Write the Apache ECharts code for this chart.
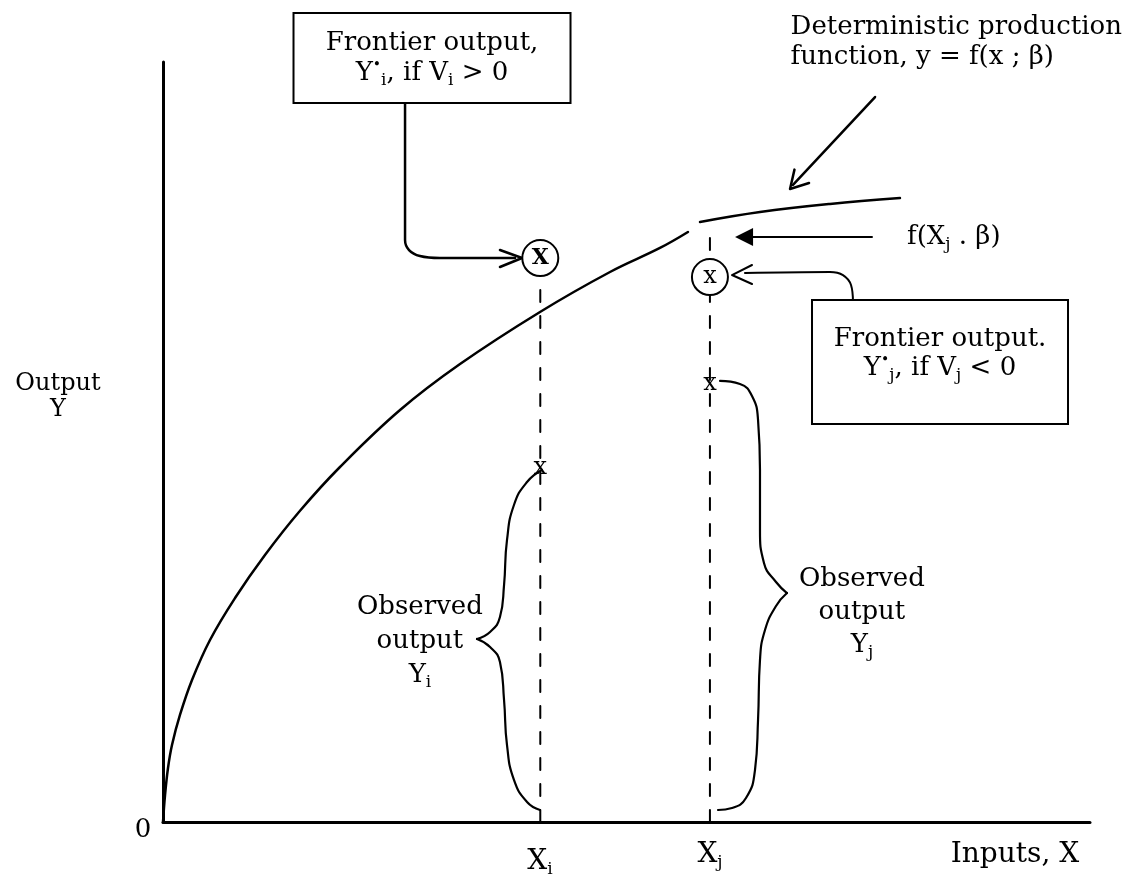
<!DOCTYPE html>
<html><head><meta charset="utf-8">
<script src="https://cdn.jsdelivr.net/npm/echarts@6/dist/echarts.min.js"></script>
<style>html,body{margin:0;padding:0;background:#fff}#c{width:1125px;height:888px}</style>
</head><body><div id="c"></div>
<script>
const FONT = '"DejaVu Serif", "Liberation Serif", serif';

// Deterministic production function y = f(x; beta), drawn as two strokes
const curveLeft = [[0,0],[0.22,3.55],[0.54,7.11],[0.97,10.13],[1.83,14.08],[3.13,18.68],[5.07,23.95],[7.77,29.47],[11.0,35.13],[14.78,40.95],[19.09,46.71],[25.57,54.21],[32.04,60.26],[40.67,67.11],[48.22,72.37],[53.61,75.53],[56.63,77.63]];
const curveRight = [[57.93,78.95],[64.40,80.26],[71.95,81.32],[79.5,82.1]];

// Inputs and outputs
const inputNames = ['X_i', 'X_j'];
const inputValues = [40.7, 59.0];
const frontierOutputs = [74.2, 71.7];   // circled frontier outputs Y*
const observedOutputs = [46.6, 57.6];   // observed outputs Y
const dashTops = [72.0, 77.9];          // top of the dashed verticals (f(Xj, beta) for j)

// Braces marking observed output
const braceIUpper = [[40.88,46.32],[39.27,44.74],[37.86,41.71],[37.11,37.11],[36.79,31.18],[36.35,26.97],[35.28,25.0],[33.87,24.08]];
const braceILower = [[33.87,24.08],[35.28,23.03],[36.35,21.05],[36.79,16.05],[37.11,10.13],[37.86,5.53],[39.27,2.63],[40.67,1.58]];
const braceJUpper = [[60.09,58.03],[62.24,57.63],[63.54,56.05],[64.19,52.89],[64.40,46.32],[64.40,38.42],[64.83,34.08],[66.13,31.58],[67.31,30.13]];
const braceJLower = [[67.31,30.13],[66.13,28.42],[64.94,25.26],[64.40,21.32],[64.19,13.42],[63.86,6.84],[62.89,3.16],[61.38,1.84],[59.87,1.58]];

// Connectors from boxes / labels
const connectorI = [[26.11,94.74],[26.11,76.58],[26.54,75.26],[27.72,74.47],[29.88,74.21],[37.97,74.21]];
const arrowHeadI = [[36.35,75.26],[38.73,74.21],[36.35,73.03]];
const connectorJ = [[74.43,68.42],[74.22,70.66],[73.35,71.97],[71.95,72.37],[62.78,72.24]];
const arrowHeadJ = [[63.54,73.29],[61.38,71.97],[63.54,70.79]];
const pointerLine = [[76.81,95.39],[67.96,83.82]];
const arrowHeadCurve = [[69.69,84.08],[67.64,83.29],[68.12,85.84]];
const fArrowShaft = [[76.48,76.97],[63.65,76.97]];
const fArrowHead = [62.68,76.97];

// Text anchors (data coordinates)
const box1Pos = [29.02,100.53];
const box2Pos = [83.82,60.53];
const curveLabelPos = [67.7,102.63];
const fLabelPos = [80.26,76.97];
const yTitlePos = [-11.33,56.0];
const originPos = [-2.16,-1.05];
const xTickPos = [[40.67,-5.26],[59.01,-4.34]];
const xTitlePos = [91.9,-4.34];
const obsIPos = [27.72,23.82];
const obsJPos = [75.40,27.63];

const rich = {
  sub: {fontFamily: FONT, fontSize: 17, color: '#000', lineHeight: 30, padding: [16,0,0,0]},
  sup: {fontFamily: FONT, fontSize: 14, color: '#000', lineHeight: 30, padding: [0,0,16,0]}
};

function lineS(data, opts) {
  opts = opts || {};
  return {
    type: 'line', data: data, symbol: 'none', silent: true, clip: false,
    smooth: opts.smooth || false,
    lineStyle: {color: '#000', width: opts.width || 2.5, type: opts.type || 'solid', cap: 'round', join: 'round', opacity: 1},
    z: 2
  };
}

function txt(pos, text, extra) {
  return {
    value: pos,
    label: Object.assign({
      show: true, position: 'inside', formatter: text,
      fontFamily: FONT, fontSize: 26, color: '#000', lineHeight: 30,
      align: 'center', rich: rich, opacity: 1
    }, extra || {})
  };
}

const option = {
  animation: false,
  backgroundColor: '#fff',
  grid: {left: 163, right: 35, top: 62, bottom: 66},
  xAxis: {
    type: 'value', min: 0, max: 100,
    axisLine: {show: true, onZero: false, lineStyle: {color: '#000', width: 3}},
    axisTick: {show: false}, axisLabel: {show: false}, splitLine: {show: false}
  },
  yAxis: {
    type: 'value', min: 0, max: 100,
    axisLine: {show: true, onZero: false, lineStyle: {color: '#000', width: 3}},
    axisTick: {show: false}, axisLabel: {show: false}, splitLine: {show: false}
  },
  series: [
    lineS(curveLeft, {smooth: 0.4}),
    lineS(curveRight, {smooth: 0.4}),
    lineS([[inputValues[0],0],[inputValues[0],dashTops[0]]], {type: [12,14], width: 2}),
    lineS([[inputValues[1],0],[inputValues[1],dashTops[1]]], {type: [12,14], width: 2}),
    lineS(braceIUpper, {smooth: 0.5, width: 2.2}),
    lineS(braceILower, {smooth: 0.5, width: 2.2}),
    lineS(braceJUpper, {smooth: 0.5, width: 2.2}),
    lineS(braceJLower, {smooth: 0.5, width: 2.2}),
    lineS(connectorI, {smooth: 0.4, width: 2.5}),
    lineS(arrowHeadI, {width: 2.5}),
    lineS(connectorJ, {smooth: 0.4, width: 2}),
    lineS(arrowHeadJ, {width: 2}),
    lineS(pointerLine, {width: 2.5}),
    lineS(arrowHeadCurve, {width: 2.5}),
    lineS(fArrowShaft, {width: 2}),
    {
      type: 'scatter', silent: true, clip: false, z: 3,
      symbol: 'triangle', symbolSize: [18,18], symbolRotate: 90,
      itemStyle: {color: '#000', opacity: 1},
      data: [fArrowHead]
    },
    {
      type: 'scatter', silent: true, clip: false, z: 4,
      symbol: 'circle', symbolSize: 36,
      itemStyle: {color: '#fff', borderColor: '#000', borderWidth: 2, opacity: 1},
      label: {show: true, position: 'inside', fontFamily: FONT, color: '#000'},
      data: [
        {value: [inputValues[0], frontierOutputs[0]], label: {formatter: 'X', fontSize: 22, fontWeight: 'bold'}},
        {value: [inputValues[1], frontierOutputs[1]], label: {formatter: 'x', fontSize: 24}}
      ]
    },
    {
      type: 'scatter', silent: true, clip: false, z: 4,
      symbolSize: 0, itemStyle: {opacity: 1},
      label: {show: true, position: 'inside', formatter: 'x', fontFamily: FONT, fontSize: 24, color: '#000'},
      data: [[inputValues[0], observedOutputs[0]], [inputValues[1], observedOutputs[1]]]
    },
    {
      type: 'scatter', silent: true, clip: false, z: 5,
      symbolSize: 0, itemStyle: {opacity: 1},
      data: [
        txt(box1Pos, 'Frontier output,\nY{sup|•}{sub|i}, if V{sub|i} > 0',
          {borderColor: '#000', borderWidth: 2, padding: [14,18,14,18], width: 239, backgroundColor: '#fff'}),
        txt(box2Pos, 'Frontier output.\nY{sup|•}{sub|j}, if V{sub|j} < 0',
          {borderColor: '#000', borderWidth: 2, padding: [24,15,40,15], width: 224, lineHeight: 28, backgroundColor: '#fff'}),
        txt(curveLabelPos, 'Deterministic production\nfunction, y = f(x ; β)', {position: 'right', distance: 0, align: 'left'}),
        txt(fLabelPos, 'f(X{sub|j} . β)', {position: 'right', distance: 0, align: 'left'}),
        txt(yTitlePos, 'Output\nY', {lineHeight: 26, fontSize: 24}),
        txt(originPos, '0'),
        txt(xTickPos[0], 'X{sub|i}', {fontSize: 28}),
        txt(xTickPos[1], 'X{sub|j}', {fontSize: 28}),
        txt(xTitlePos, 'Inputs, X', {fontSize: 28}),
        txt(obsIPos, 'Observed\noutput\nY{sub|i}', {lineHeight: 34}),
        txt(obsJPos, 'Observed\noutput\nY{sub|j}', {lineHeight: 33})
      ]
    }
  ]
};

const chart = echarts.init(document.getElementById('c'), null, {renderer: 'canvas'});
chart.setOption(option);
</script>
</body></html>
